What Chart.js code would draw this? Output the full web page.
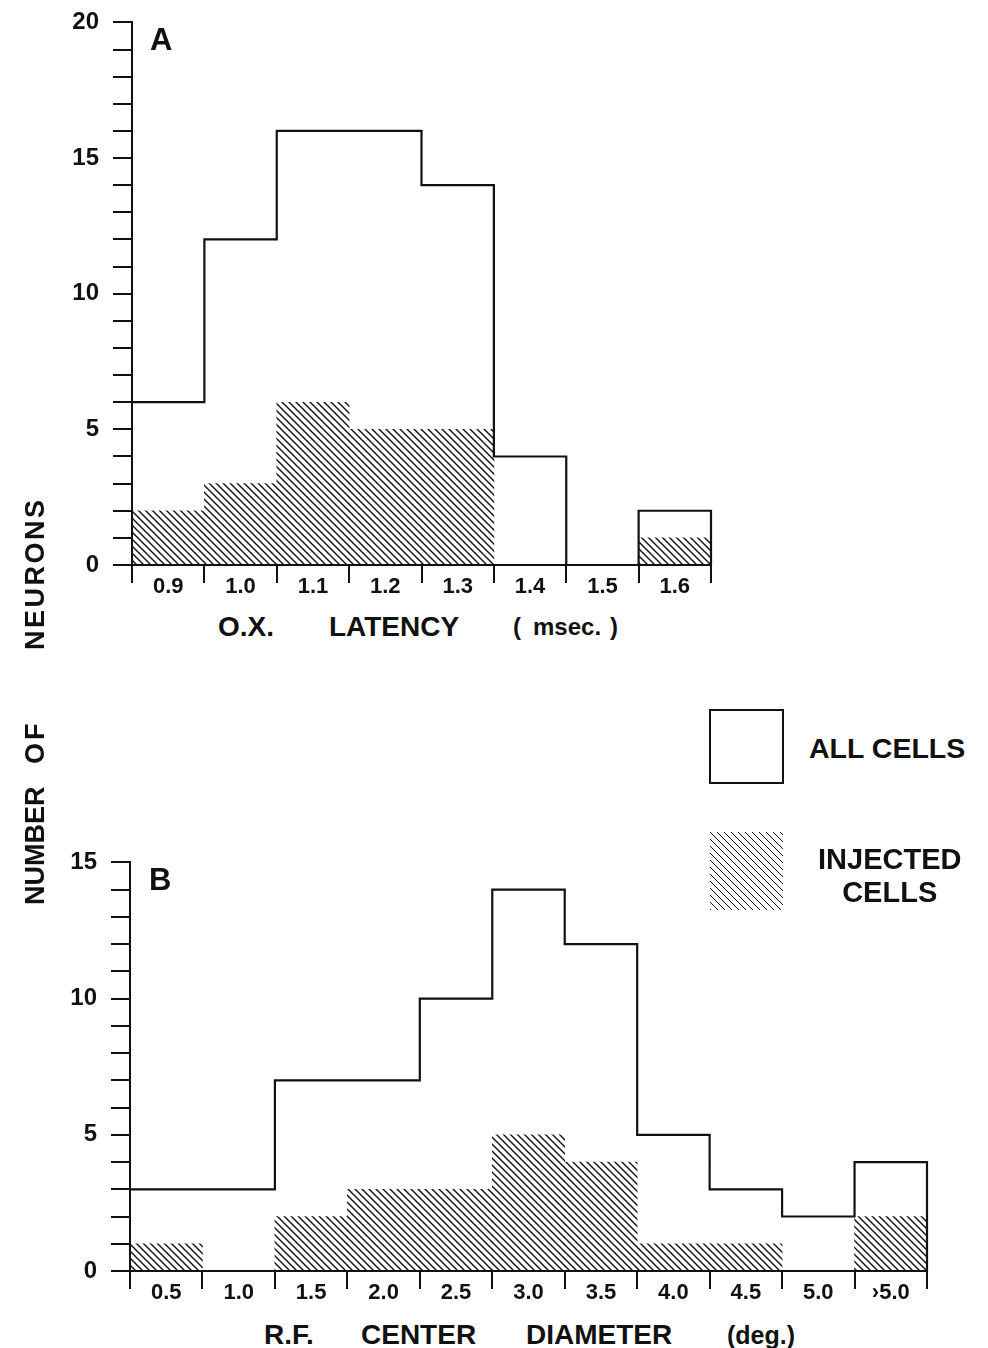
<!DOCTYPE html>
<html>
<head>
<meta charset="utf-8">
<script src="https://cdn.jsdelivr.net/npm/chart.js@4"></script>
<style>
  html, body { margin: 0; padding: 0; background: #fff; }
  body { width: 988px; height: 1348px; position: relative; overflow: hidden;
         font-family: "Liberation Sans", Arial, sans-serif; color: #111; }
  canvas { position: absolute; }
  .t { position: absolute; font-weight: bold; white-space: pre; line-height: 1; }
  #ytitle { position: absolute; left: 35px; top: 700px; width: 410px; height: 30px;
            transform: translate(-50%, -50%) rotate(-90deg); }
  #ytitle span { position: absolute; top: 0; font-weight: bold; font-size: 27px; line-height: 30px; white-space: pre; }
  .box { position: absolute; box-sizing: border-box; }
</style>
</head>
<body>
<canvas id="chartA"></canvas>
<canvas id="chartB"></canvas>

<div class="t" style="left:150px; top:24px; font-size:31px;">A</div>
<div class="t" style="left:149px; top:864px; font-size:31px;">B</div>

<div class="t" style="left:218px; top:613px; font-size:28px;">O.X.</div>
<div class="t" style="left:329px; top:613px; font-size:28px;">LATENCY</div>
<div class="t" style="left:513px; top:615px; font-size:24px;">(</div>
<div class="t" style="left:533px; top:615px; font-size:24px;">msec.</div>
<div class="t" style="left:610px; top:615px; font-size:24px;">)</div>

<div class="t" style="left:264px; top:1321px; font-size:28px;">R.F.</div>
<div class="t" style="left:361px; top:1321px; font-size:28px;">CENTER</div>
<div class="t" style="left:526px; top:1321px; font-size:28px;">DIAMETER</div>
<div class="t" style="left:727px; top:1323px; font-size:25px;">(deg.)</div>

<div id="ytitle">
  <span style="left:0px;">NUMBER</span>
  <span style="left:141px; letter-spacing:3px;">OF</span>
  <span style="left:255px; letter-spacing:2.5px;">NEURONS</span>
</div>

<div class="box" style="left:709px; top:709px; width:75px; height:75px; border:2px solid #111;"></div>
<div class="t" style="left:809px; top:734px; font-size:28.5px;">ALL CELLS</div>
<div class="box" style="left:710px; top:832px; width:73px; height:78px;
     background: repeating-linear-gradient(45deg, #111 0 1.2px, #fff 1.2px 4.95px);"></div>
<div class="t" style="left:818px; top:843px; font-size:29px; text-align:center; line-height:33px;">INJECTED<br>CELLS</div>

<script>
// ---- data ----
const latencyBins   = ['0.9','1.0','1.1','1.2','1.3','1.4','1.5','1.6'];
const latencyAll    = [6, 12, 16, 16, 14, 4, 0, 2];
const latencyInj    = [2, 3, 6, 5, 5, 0, 0, 1];
const latencyTicksMax = 20;

const diameterBins  = ['0.5','1.0','1.5','2.0','2.5','3.0','3.5','4.0','4.5','5.0','\u203A5.0'];
const diameterAll   = [3, 3, 7, 7, 10, 14, 12, 5, 3, 2, 4];
const diameterInj   = [1, 0, 2, 3, 3, 5, 4, 1, 1, 0, 2];
const diameterTicksMax = 15;

const INK = '#111';
const TICK_FONT = '"Liberation Sans", Arial, sans-serif';

function hatchPattern() {
  const c = document.createElement('canvas');
  c.width = 7; c.height = 7;
  const g = c.getContext('2d');
  g.strokeStyle = INK; g.lineWidth = 1.4;
  g.beginPath();
  g.moveTo(-1, -1); g.lineTo(8, 8);
  g.moveTo(-1, 6); g.lineTo(1, 8);
  g.moveTo(6, -1); g.lineTo(8, 1);
  g.stroke();
  return c.getContext('2d').createPattern(c, 'repeat');
}

function outlinePoints(values) {
  const pts = [];
  values.forEach((v, i) => { pts.push({x: i, y: v}); pts.push({x: i + 1, y: v}); });
  pts.push({x: values.length, y: 0});
  return pts;
}

function makeChart(id, geom, labels, all, inj, ymax) {
  const cv = document.getElementById(id);
  cv.style.left = geom.left + 'px';
  cv.style.top = geom.top + 'px';
  cv.width = geom.width; cv.height = geom.height;
  cv.style.width = geom.width + 'px'; cv.style.height = geom.height + 'px';
  return new Chart(cv, {
    data: {
      labels: labels,
      datasets: [
        {
          type: 'line', label: 'ALL CELLS', xAxisID: 'x2', yAxisID: 'y',
          data: outlinePoints(all), borderColor: INK, borderWidth: 2.2,
          pointRadius: 0, fill: false, tension: 0, clip: 6
        },
        {
          type: 'bar', label: 'INJECTED CELLS', xAxisID: 'x', yAxisID: 'y',
          data: inj, backgroundColor: hatchPattern(), borderWidth: 0,
          grouped: false, barPercentage: 1, categoryPercentage: 1
        }
      ]
    },
    options: {
      responsive: false, animation: false, maintainAspectRatio: false,
      layout: { padding: { top: 0, right: 10, left: 0, bottom: 0 } },
      plugins: { legend: { display: false }, tooltip: { enabled: false } },
      scales: {
        x: {
          type: 'category', offset: true,
          grid: { offset: true, drawOnChartArea: false, drawTicks: true, tickLength: 18, color: INK, lineWidth: 2 },
          border: { display: true, color: INK, width: 2 },
          ticks: { color: INK, font: { family: TICK_FONT, size: 22, weight: 'bold' },
                   padding: -9, maxRotation: 0, autoSkip: false },
          afterFit: s => { s.height = 40; }
        },
        x2: { type: 'linear', display: false, min: 0, max: labels.length },
        y: {
          type: 'linear', min: 0, max: ymax,
          grid: { drawOnChartArea: false, drawTicks: true, tickLength: 19, color: INK, lineWidth: 2 },
          border: { display: true, color: INK, width: 2 },
          ticks: { stepSize: 1, autoSkip: false, color: INK, padding: 14,
                   font: { family: TICK_FONT, size: 24, weight: 'bold' },
                   callback: v => (v % 5 === 0 ? String(v) : '') },
          afterFit: s => { s.width = geom.axisX; }
        }
      }
    }
  });
}

makeChart('chartA', {left: 0, top: -6, width: 721, height: 611, axisX: 132},
          latencyBins, latencyAll, latencyInj, latencyTicksMax);
makeChart('chartB', {left: 0, top: 834, width: 937, height: 477, axisX: 130},
          diameterBins, diameterAll, diameterInj, diameterTicksMax);
</script>
</body>
</html>
